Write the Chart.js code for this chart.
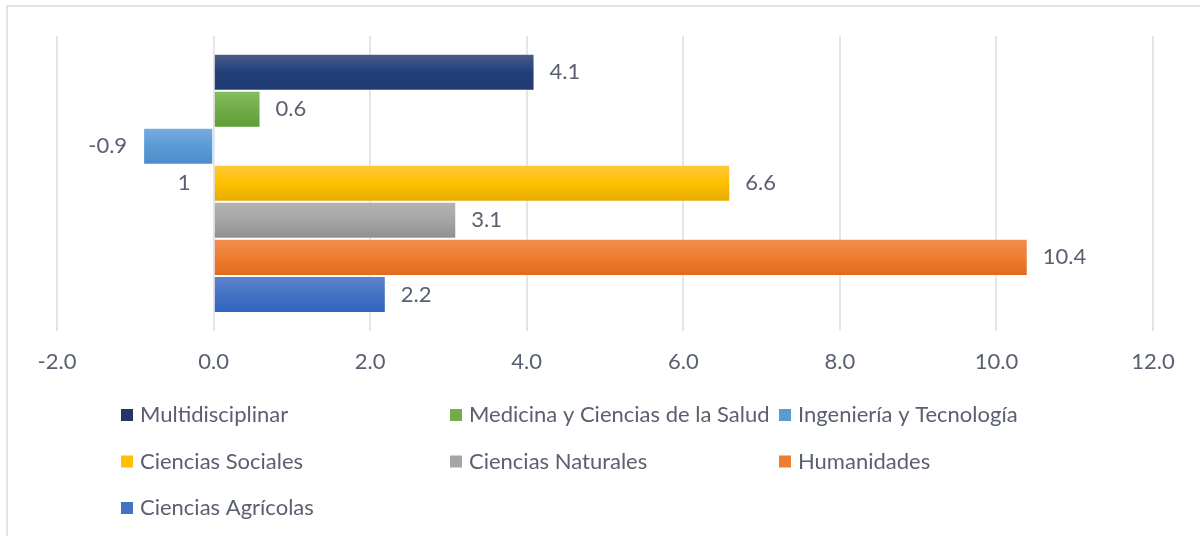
<!DOCTYPE html>
<html>
<head>
   <title>Variación por área</title>
   <meta charset="UTF-8">
   <script src="https://cdn.jsdelivr.net/npm/chart.js"></script>
   <style>
       body {
           margin: 0;
           background: white;
       }
       .marco {
           position: relative;
           width: 1200px;
           height: 536px;
           overflow: hidden;
       }
       .borde {
           position: absolute;
           left: 6px;
           top: 5px;
           width: 1300px;
           height: 600px;
           border-top: 2px solid #dfe3eb;
           border-left: 2px solid #dfe3eb;
       }
       canvas {
           position: absolute;
           left: 0;
           top: 0;
       }
   </style>
</head>
<body>
   <div class="marco">
       <div class="borde"></div>
       <canvas id="grafico" width="1200" height="536"></canvas>
   </div>

   <script>
       // Datos
       const categorias = ['1'];
       const areas = ['Multidisciplinar', 'Medicina y Ciencias de la Salud', 'Ingeniería y Tecnología',
                      'Ciencias Sociales', 'Ciencias Naturales', 'Humanidades', 'Ciencias Agrícolas'];
       const valores = [4.1, 0.6, -0.9, 6.6, 3.1, 10.4, 2.2];
       const ticksX = [-2, 0, 2, 4, 6, 8, 10, 12];

       // Colores (arriba, medio, abajo) para el degradado
       const colores = [
           ['#4b5e8b', '#223f7a', '#1e3a70'],
           ['#87bd5f', '#70ad47', '#5e9d35'],
           ['#77acdf', '#5b9bd5', '#4a8bca'],
           ['#ffca3c', '#ffc000', '#e3aa00'],
           ['#b4b4b4', '#a5a5a5', '#8e8e8e'],
           ['#f38d51', '#ed7d31', '#e06a1a'],
           ['#5f84cd', '#4472c4', '#2f62bf']
       ];
       const coloresLeyenda = ['#203864', '#70ad47', '#5b9bd5', '#ffc000', '#a5a5a5', '#ed7d31', '#4472c4'];

       const fuente = 'Lato, "Noto Sans", sans-serif';
       const colorTexto = '#5a6070';
       const porcCategoria = 0.88;

       function degradado(ctx) {
           const chart = ctx.chart;
           const c = colores[ctx.datasetIndex];
           if (!chart.chartArea) return c[1];
           const y = chart.scales.y;
           const altoCat = (y.bottom - y.top) / categorias.length;
           const altoBarra = altoCat * porcCategoria / areas.length;
           const centro = y.getPixelForValue(ctx.dataIndex);
           const arriba = centro - altoCat * porcCategoria / 2 + ctx.datasetIndex * altoBarra;
           const g = chart.ctx.createLinearGradient(0, arriba, 0, arriba + altoBarra);
           g.addColorStop(0, c[0]);
           g.addColorStop(0.5, c[1]);
           g.addColorStop(1, c[2]);
           return g;
       }

       // Etiquetas de valor al final de cada barra y nombre de categoría junto al eje 0
       const etiquetas = {
           id: 'etiquetas',
           afterDatasetsDraw(chart) {
               const ctx = chart.ctx;
               ctx.save();
               ctx.font = '22px ' + fuente;
               ctx.fillStyle = colorTexto;
               ctx.textBaseline = 'middle';
               chart.data.datasets.forEach((ds, i) => {
                   const meta = chart.getDatasetMeta(i);
                   meta.data.forEach((barra, j) => {
                       const v = ds.data[j];
                       if (v < 0) {
                           ctx.textAlign = 'right';
                           ctx.fillText(v.toFixed(1), barra.x - 16, barra.y);
                       } else {
                           ctx.textAlign = 'left';
                           ctx.fillText(v.toFixed(1), barra.x + 15, barra.y);
                       }
                   });
               });
               // categoría
               const x0 = chart.scales.x.getPixelForValue(0);
               ctx.textAlign = 'right';
               categorias.forEach((cat, j) => {
                   ctx.fillText(cat, x0 - 23, chart.scales.y.getPixelForValue(j));
               });
               ctx.restore();
           }
       };

       // Leyenda en tres columnas
       const leyenda = {
           id: 'leyendaColumnas',
           afterDraw(chart) {
               const ctx = chart.ctx;
               ctx.save();
               ctx.font = '22px ' + fuente;
               ctx.textBaseline = 'middle';
               ctx.textAlign = 'left';
               chart.data.datasets.forEach((ds, i) => {
                   const col = i % 3;
                   const fila = Math.floor(i / 3);
                   const x = 121 + col * 329;
                   const y = 415 + fila * 46.5;
                   ctx.fillStyle = coloresLeyenda[i];
                   ctx.fillRect(x, y - 6, 12, 12);
                   ctx.fillStyle = colorTexto;
                   ctx.fillText(ds.label, x + 19, y);
               });
               ctx.restore();
           }
       };

       const grafico = new Chart(document.getElementById('grafico'), {
           type: 'bar',
           data: {
               labels: categorias,
               datasets: areas.map((a, i) => ({
                   label: a,
                   data: [valores[i]],
                   backgroundColor: degradado,
                   borderColor: 'rgba(255,255,255,0.45)',
                   borderWidth: 1,
                   categoryPercentage: porcCategoria,
                   barPercentage: 1
               }))
           },
           options: {
               indexAxis: 'y',
               responsive: false,
               animation: false,
               layout: {
                   padding: { top: 36, left: 57, right: 47, bottom: 143 }
               },
               plugins: {
                   legend: { display: false },
                   tooltip: { enabled: false }
               },
               scales: {
                   x: {
                       min: -2,
                       max: 12,
                       afterBuildTicks: (eje) => {
                           eje.ticks = ticksX.map(v => ({ value: v }));
                       },
                       grid: {
                           color: '#e2e5ec',
                           lineWidth: 2,
                           drawTicks: false
                       },
                       border: { display: false },
                       ticks: {
                           padding: 18,
                           color: colorTexto,
                           font: { family: fuente, size: 22 },
                           callback: (v) => Number(v).toFixed(1)
                       }
                   },
                   y: {
                       position: { x: 0 },
                       grid: { display: false, drawTicks: false },
                       border: { display: false },
                       ticks: { display: false }
                   }
               }
           },
           plugins: [etiquetas, leyenda]
       });
   </script>
</body>
</html>
